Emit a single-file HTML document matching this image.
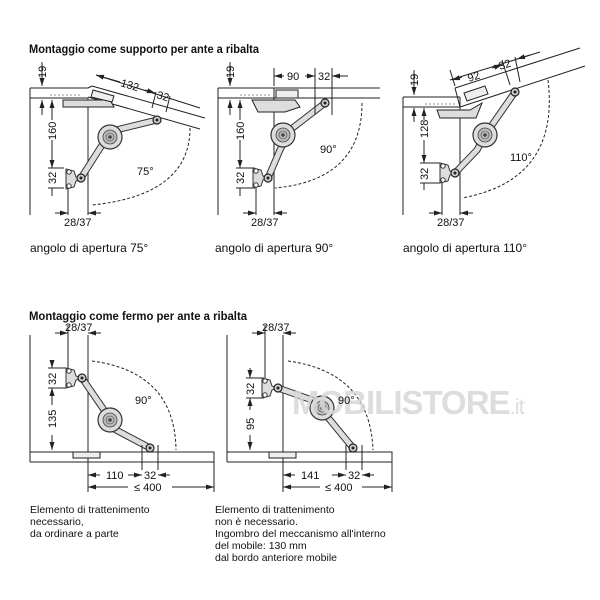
<!DOCTYPE html>
<html><head><meta charset="utf-8"><style>
html,body{margin:0;padding:0;background:#fff}
svg{display:block;font-family:"Liberation Sans",Arial,sans-serif}
</style></head><body>
<svg width="600" height="600" viewBox="0 0 600 600" xmlns="http://www.w3.org/2000/svg">
<defs>
<marker id="a" markerWidth="8" markerHeight="6" refX="8" refY="3" orient="auto-start-reverse" markerUnits="userSpaceOnUse"><path d="M0,0.5 L8,3 L0,5.5 z" fill="#222"/></marker>
<g id="hub"><circle r="12" fill="#ddd" stroke="#333" stroke-width="1.2"/><circle r="7" fill="#bbb" stroke="#444" stroke-width="0.8"/><circle r="4" fill="none" stroke="#444" stroke-width="0.6"/><circle r="1.8" fill="#444"/></g>
<g id="piv"><circle r="4" fill="#ccc" stroke="#222" stroke-width="1.2"/><circle r="1.5" fill="#222"/></g>
<g id="brk"><path d="M-4,-10 L4,-8 L6,-2 L12,0 L6,2 L4,8 L-4,10 Z" fill="#ddd" stroke="#333" stroke-width="1"/><circle cx="-1" cy="-7" r="2.2" fill="#fff" stroke="#333"/><circle cx="-1" cy="7" r="2.2" fill="#fff" stroke="#333"/></g>
</defs>
<g font-size="12" fill="#111">
<text x="29" y="53" font-weight="bold" textLength="230" lengthAdjust="spacingAndGlyphs">Montaggio come supporto per ante a ribalta</text>
<text x="29" y="320" font-weight="bold" textLength="218" lengthAdjust="spacingAndGlyphs">Montaggio come fermo per ante a ribalta</text>
<text x="30" y="252">angolo di apertura 75°</text>
<text x="215" y="252">angolo di apertura 90°</text>
<text x="403" y="252">angolo di apertura 110°</text>
</g>
<g font-size="10.5" fill="#111">
<text x="30" y="513">Elemento di trattenimento</text>
<text x="30" y="525">necessario,</text>
<text x="30" y="537">da ordinare a parte</text>
<text x="215" y="513">Elemento di trattenimento</text>
<text x="215" y="525">non è necessario.</text>
<text x="215" y="537">Ingombro del meccanismo all'interno</text>
<text x="215" y="549">del mobile: 130 mm</text>
<text x="215" y="561">dal bordo anteriore mobile</text>
</g>

<g stroke="#222" stroke-width="1" fill="none">
<!-- Diagram 1 -->
<path d="M30,88 V215 M30,88 H88 M30,98 H88 M88,98 V215"/>
<path d="M92,86 L205,118 M88,97 L200,129 M88,88 L92,86"/>
<path d="M50,95 H80" stroke-dasharray="2,2" stroke-width="0.6"/>
<path d="M63,100 H110 L114,107 H63 Z" fill="#ddd"/>
<path d="M93,90 L114,96 L112,102 L91,97Z" fill="#eee"/>
<path d="M81,178 L104,142 L116,130 L157,120" stroke="#333" stroke-width="7" stroke-linecap="round"/>
<path d="M81,178 L104,142 L116,130 L157,120" stroke="#ddd" stroke-width="5" stroke-linecap="round"/>
<path d="M190,128 Q190,195 92,205" stroke-dasharray="3,2"/>
<path d="M42,62 V86" marker-end="url(#a)"/><path d="M42,115 V100" marker-end="url(#a)"/>
<path d="M52,120 V100" marker-end="url(#a)"/><path d="M52,140 V168" marker-end="url(#a)"/>
<path d="M48,168 H64 M48,188 H64 M52,196 V188"/>
<path d="M68,188 V215"/>
<path d="M55,213 H68" marker-end="url(#a)"/><path d="M101,213 H88" marker-end="url(#a)"/>
<path d="M96,75 L200,108 M156,92 L152,108 M170,96 L166,112"/>
<path d="M96,75 L120,82" marker-start="url(#a)"/><path d="M145,90 L155,93" marker-end="url(#a)"/>
<!-- Diagram 2 -->
<path d="M218,88 V215 M218,88 H380 M218,98 H380 M274,88 V215"/>
<path d="M240,95 H270" stroke-dasharray="2,2" stroke-width="0.6"/>
<path d="M252,100 H295 L300,107 L285,112 H258 Z" fill="#ddd"/>
<rect x="276" y="90" width="22" height="8" fill="#eee"/>
<path d="M268,178 L280,150 L290,130 L325,103" stroke="#333" stroke-width="7" stroke-linecap="round"/>
<path d="M268,178 L280,150 L290,130 L325,103" stroke="#ddd" stroke-width="5" stroke-linecap="round"/>
<path d="M362,103 Q362,180 275,188" stroke-dasharray="3,2"/>
<path d="M230,62 V86" marker-end="url(#a)"/><path d="M230,115 V100" marker-end="url(#a)"/>
<path d="M240,120 V100" marker-end="url(#a)"/><path d="M240,140 V168" marker-end="url(#a)"/>
<path d="M236,168 H255 M236,188 H255 M240,196 V188"/>
<path d="M256,188 V215"/>
<path d="M274,68 V86 M315,68 V115 M332,68 V115"/>
<path d="M284,76 H274" marker-end="url(#a)"/><path d="M305,76 H315" marker-end="url(#a)"/>
<path d="M348,76 H332" marker-end="url(#a)"/>
<path d="M243,213 H256" marker-end="url(#a)"/><path d="M287,213 H274" marker-end="url(#a)"/>
<!-- Diagram 3 -->
<path d="M403,97 V215 M403,97 H460 M403,107 H460 M460,97 V215"/>
<path d="M455,88 L580,48 M460,107 L585,66 M455,88 L460,107"/>
<path d="M425,104 H455" stroke-dasharray="2,2" stroke-width="0.6"/>
<path d="M437,110 H470 L482,103 L476,118 H440 Z" fill="#ddd"/>
<path d="M464,93 L485,86 L488,94 L467,101Z" fill="#eee"/>
<path d="M455,173 L477,150 L485,135 L515,92" stroke="#333" stroke-width="7" stroke-linecap="round"/>
<path d="M455,173 L477,150 L485,135 L515,92" stroke="#ddd" stroke-width="5" stroke-linecap="round"/>
<path d="M548,80 Q560,180 462,198" stroke-dasharray="3,2"/>
<path d="M414,70 V95" marker-end="url(#a)"/><path d="M414,122 V108" marker-end="url(#a)"/>
<path d="M424,120 V108" marker-end="url(#a)"/><path d="M424,140 V163" marker-end="url(#a)"/>
<path d="M420,163 H440 M420,183 H440 M424,190 V183"/>
<path d="M442,183 V215"/>
<path d="M455,86 L450,70 M450,80 L540,52 M502,60 L510,85 M515,57 L520,82"/>
<path d="M462,77 L452,80" marker-end="url(#a)"/><path d="M492,68 L502,65" marker-end="url(#a)"/>
<path d="M530,55 L517,59" marker-end="url(#a)"/>
<path d="M429,213 H442" marker-end="url(#a)"/><path d="M473,213 H460" marker-end="url(#a)"/>
<!-- Diagram 4 -->
<path d="M30,335 V462 M30,452 H214 V462 H30 M88,335 V462"/>
<rect x="73" y="452" width="27" height="6" fill="#eee"/>
<path d="M82,378 L104,410 L116,430 L150,448" stroke="#333" stroke-width="7" stroke-linecap="round"/>
<path d="M82,378 L104,410 L116,430 L150,448" stroke="#ddd" stroke-width="5" stroke-linecap="round"/>
<path d="M92,361 Q175,372 176,450" stroke-dasharray="3,2"/>
<path d="M68,325 V368"/>
<path d="M55,333 H68" marker-end="url(#a)"/><path d="M101,333 H88" marker-end="url(#a)"/>
<path d="M52,360 V368" marker-end="url(#a)"/><path d="M52,398 V388" marker-end="url(#a)"/>
<path d="M48,368 H66 M48,388 H66"/>
<path d="M52,405 V388" marker-end="url(#a)"/><path d="M52,435 V450" marker-end="url(#a)"/>
<path d="M142,445 V470 M158,445 V470 M140,452 H162 M88,462 V492 M214,462 V492"/>
<path d="M100,475 H88" marker-end="url(#a)"/><path d="M128,475 H142" marker-end="url(#a)"/>
<path d="M170,475 H158" marker-end="url(#a)"/>
<path d="M128,487 H88" marker-end="url(#a)"/><path d="M172,487 H214" marker-end="url(#a)"/>
<!-- Diagram 5 -->
<path d="M227,335 V462 M227,452 H392 V462 H227 M283,335 V462"/>
<rect x="269" y="452" width="27" height="6" fill="#eee"/>
<path d="M278,388 L312,400 L330,420 L353,448" stroke="#333" stroke-width="7" stroke-linecap="round"/>
<path d="M278,388 L312,400 L330,420 L353,448" stroke="#ddd" stroke-width="5" stroke-linecap="round"/>
<path d="M288,361 Q370,372 373,450" stroke-dasharray="3,2"/>
<path d="M265,325 V378"/>
<path d="M252,333 H265" marker-end="url(#a)"/><path d="M296,333 H283" marker-end="url(#a)"/>
<path d="M250,368 V378" marker-end="url(#a)"/><path d="M250,410 V398" marker-end="url(#a)"/>
<path d="M246,378 H264 M246,398 H264"/>
<path d="M250,435 V450" marker-end="url(#a)"/>
<path d="M346,445 V470 M362,445 V470 M344,452 H366 M283,462 V492 M392,462 V492"/>
<path d="M295,475 H283" marker-end="url(#a)"/><path d="M332,475 H346" marker-end="url(#a)"/>
<path d="M374,475 H362" marker-end="url(#a)"/>
<path d="M320,487 H283" marker-end="url(#a)"/><path d="M362,487 H392" marker-end="url(#a)"/>
</g>

<use href="#brk" x="70" y="179"/><use href="#piv" x="81" y="178"/><use href="#hub" x="110" y="137"/><use href="#piv" x="157" y="120"/>
<use href="#brk" x="257" y="178"/><use href="#piv" x="268" y="178"/><use href="#hub" x="283" y="135"/><use href="#piv" x="325" y="103"/>
<use href="#brk" x="444" y="173"/><use href="#piv" x="455" y="173"/><use href="#hub" x="485" y="135"/><use href="#piv" x="515" y="92"/>
<use href="#brk" x="70" y="378"/><use href="#piv" x="82" y="378"/><use href="#hub" x="110" y="420"/><use href="#piv" x="150" y="448"/>
<use href="#brk" x="266" y="388"/><use href="#piv" x="278" y="388"/><use href="#hub" x="322" y="408"/><use href="#piv" x="353" y="448"/>

<text x="292" y="414" font-size="33" font-weight="bold" fill="#d8d8d8" opacity="0.85" letter-spacing="-1">MOBILISTORE<tspan font-weight="normal" font-size="22">.it</tspan></text>

<g font-size="11" fill="#111">
<text transform="translate(46,78) rotate(-90)">19</text>
<text transform="translate(56,140) rotate(-90)">160</text>
<text transform="translate(56,184) rotate(-90)">32</text>
<text x="64" y="226">28/37</text>
<text transform="translate(120,86) rotate(17)">132</text>
<text transform="translate(156,98) rotate(17)">32</text>
<text x="137" y="175">75°</text>

<text transform="translate(234,78) rotate(-90)">19</text>
<text transform="translate(244,140) rotate(-90)">160</text>
<text transform="translate(244,184) rotate(-90)">32</text>
<text x="251" y="226">28/37</text>
<text x="287" y="80">90</text>
<text x="318" y="80">32</text>
<text x="320" y="153">90°</text>

<text transform="translate(418,86) rotate(-90)">19</text>
<text transform="translate(428,138) rotate(-90)">128</text>
<text transform="translate(428,180) rotate(-90)">32</text>
<text x="437" y="226">28/37</text>
<text transform="translate(469,82) rotate(-18)">92</text>
<text transform="translate(500,70) rotate(-18)">32</text>
<text x="510" y="161">110°</text>

<text x="65" y="331">28/37</text>
<text transform="translate(56,385) rotate(-90)">32</text>
<text transform="translate(56,428) rotate(-90)">135</text>
<text x="135" y="404">90°</text>
<text x="106" y="479">110</text>
<text x="144" y="479">32</text>
<text x="134" y="491">≤ 400</text>

<text x="262" y="331">28/37</text>
<text transform="translate(254,395) rotate(-90)">32</text>
<text transform="translate(254,430) rotate(-90)">95</text>
<text x="338" y="404">90°</text>
<text x="301" y="479">141</text>
<text x="348" y="479">32</text>
<text x="325" y="491">≤ 400</text>
</g>
</svg>
</body></html>
